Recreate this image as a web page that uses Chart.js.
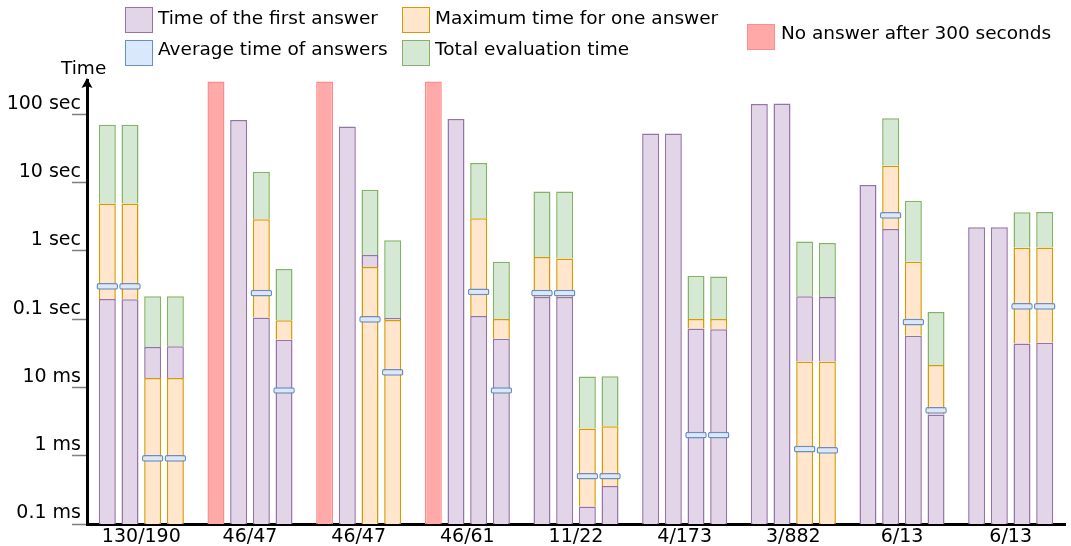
<!DOCTYPE html>
<html>
<head>
<meta charset="utf-8">
<script src="https://cdn.jsdelivr.net/npm/chart.js@4/dist/chart.umd.min.js"></script>
<style>
body{margin:0;background:#fff;font-family:'DejaVu Sans',sans-serif;}
#wrap{position:relative;width:1071px;height:546px;overflow:hidden;}
#chart{position:absolute;left:0;top:0;}
.txt{position:absolute;font-size:18.5px;line-height:22px;color:#000;white-space:nowrap;}
.box{position:absolute;box-sizing:border-box;width:28px;height:26px;border:1.5px solid;}
</style>
</head>
<body>
<div id="wrap">
<canvas id="chart" width="1071" height="546"></canvas>

<div class="box" style="left:125px;top:7px;background:#e1d5e7;border-color:#9673a6"></div>
<div class="txt" style="left:158px;top:6.5px">Time of the first answer</div>
<div class="box" style="left:125px;top:40px;background:#dae8fc;border-color:#6c8ebf"></div>
<div class="txt" style="left:158px;top:38px">Average time of answers</div>
<div class="box" style="left:402px;top:7px;background:#ffe6cc;border-color:#d79b00"></div>
<div class="txt" style="left:435px;top:6.5px">Maximum time for one answer</div>
<div class="box" style="left:402px;top:40px;background:#d5e8d4;border-color:#82b366"></div>
<div class="txt" style="left:435px;top:38px">Total evaluation time</div>
<div class="box" style="left:747px;top:24px;background:#ffaaa8;border-color:#ff8c8c"></div>
<div class="txt" style="left:781px;top:22px">No answer after 300 seconds</div>
<div class="txt" style="left:61px;top:56.5px">Time</div>
</div>

<script>
(function () {

/* ---- data (seconds), one row per bar slot inside a group ---- */

const groups = ['130/190', '46/47', '46/47', '46/61', '11/22', '4/173', '3/882', '6/13', '6/13'];

const tickValues = [1e-4, 1e-3, 1e-2, 1e-1, 1, 10, 100];
const tickLabels = ['0.1 ms', '1 ms', '10 ms', '0.1 sec', '1 sec', '10 sec', '100 sec'];

const firstAnswer = [
  [0.197, null, null, null, 0.21, 52, 141, 9.2, 2.2],
  [0.195, 82, 66, 85, 0.21, 52, 143, 2.08, 2.2],
  [0.039, 0.105, 0.87, 0.111, 0.00018, 0.073, 0.215, 0.057, 0.044],
  [0.040, 0.050, 0.104, 0.0516, 0.00036, 0.071, 0.21, 0.004, 0.045]
];

const maxAnswer = [
  [4.9, null, null, null, 0.81, null, null, null, null],
  [4.9, null, null, null, 0.77, null, null, 17.6, null],
  [0.0137, 2.9, 0.58, 3.0, 0.0025, 0.100, 0.024, 0.69, 1.11],
  [0.0137, 0.096, 0.097, 0.100, 0.0027, 0.100, 0.024, 0.0213, 1.12]
];

const avgAnswer = [
  [0.30, null, null, null, 0.24, null, null, null, null],
  [0.30, null, null, null, 0.24, null, null, 3.3, null],
  [0.00091, 0.24, 0.099, 0.25, 0.0005, 0.002, 0.00125, 0.09, 0.153],
  [0.00091, 0.009, 0.0166, 0.009, 0.0005, 0.002, 0.0012, 0.0046, 0.153]
];

const totalTime = [
  [70, null, null, null, 7.4, null, null, null, null],
  [70, null, null, null, 7.4, null, null, 87, null],
  [0.215, 14.3, 7.8, 19.3, 0.0144, 0.43, 1.37, 5.4, 3.65],
  [0.215, 0.54, 1.42, 0.69, 0.0146, 0.42, 1.3, 0.127, 3.7]
];

// only in the first slot of a group
const noAnswer = [null, 300, 300, 300, null, null, null, null, null];

const yMin = 1e-4;
const yMax = 316;

/* ---- build floating segments: each layer shows from the next lower value up ---- */

const layers = [
  {values: firstAnswer, fill: '#e1d5e7', line: '#9673a6'},
  {values: maxAnswer, fill: '#ffe6cc', line: '#d79b00'},
  {values: totalTime, fill: '#d5e8d4', line: '#82b366'}
];

const datasets = [];

for (let s = 0; s < 4; s++) {
  datasets.push({
    stack: 's' + s,
    order: 0,
    data: avgAnswer[s].map(v => v == null ? null : [v / 1.12, v * 1.12]),
    backgroundColor: '#dae8fc',
    borderColor: '#6c8ebf',
    borderWidth: 1.5,
    borderSkipped: false,
    borderRadius: 2,
    barPercentage: 0.95
  });
}

for (let s = 0; s < 4; s++) {
  layers.forEach(L => {
    const data = groups.map((g, i) => {
      const v = L.values[s][i];
      if (v == null) return null;
      const below = layers.map(o => o.values[s][i]).filter(w => w != null && w < v);
      return [below.length ? Math.max(...below) : yMin, v];
    });
    datasets.push({
      stack: 's' + s,
      order: 1,
      data: data,
      backgroundColor: L.fill,
      borderColor: L.line,
      borderWidth: 1.5,
      borderSkipped: 'bottom'
    });
  });
}

datasets.push({
  stack: 's0',
  order: 1,
  data: noAnswer.map(v => v == null ? null : [yMin, v]),
  backgroundColor: '#ffaaa8',
  borderColor: '#ff8c8c',
  borderWidth: 1.5,
  borderSkipped: 'bottom'
});

/* ---- arrow head on top of the y axis ---- */

const axisArrow = {
  id: 'axisArrow',
  afterDraw(chart) {
    const {ctx, chartArea: {left, top}} = chart;
    ctx.save();
    ctx.fillStyle = '#000';
    ctx.beginPath();
    ctx.moveTo(left, top - 2);
    ctx.lineTo(left + 5.5, top + 8);
    ctx.lineTo(left, top + 6);
    ctx.lineTo(left - 5.5, top + 8);
    ctx.closePath();
    ctx.fill();
    ctx.restore();
  }
};

Chart.defaults.font.family = "'DejaVu Sans', sans-serif";

new Chart(document.getElementById('chart').getContext('2d'), {
  type: 'bar',
  data: {labels: groups, datasets: datasets},
  options: {
    responsive: false,
    animation: false,
    categoryPercentage: 0.835,
    barPercentage: 0.75,
    layout: {padding: {top: 80, right: 6, left: 0, bottom: 0}},
    plugins: {legend: {display: false}, tooltip: {enabled: false}},
    scales: {
      x: {
        type: 'category',
        grid: {display: false, drawTicks: false},
        border: {display: true, color: '#000', width: 3},
        ticks: {color: '#000', font: {size: 19}, padding: 2, maxRotation: 0, autoSkip: false},
        afterFit(s) { s.height = 22; }
      },
      y: {
        type: 'logarithmic',
        min: yMin,
        max: yMax,
        stacked: false,
        grid: {drawOnChartArea: false, drawTicks: true, tickLength: 15, tickColor: '#7f7f7f', tickWidth: 1.5},
        border: {display: true, color: '#000', width: 3},
        ticks: {
          color: '#000', font: {size: 19}, padding: -9, labelOffset: -10.5, autoSkip: false,
          callback: (v, i) => tickLabels[i]
        },
        afterBuildTicks(s) { s.ticks = tickValues.map(v => ({value: v})); },
        afterFit(s) { s.width = 87; }
      }
    }
  },
  plugins: [axisArrow]
});

})();
</script>
</body>
</html>
